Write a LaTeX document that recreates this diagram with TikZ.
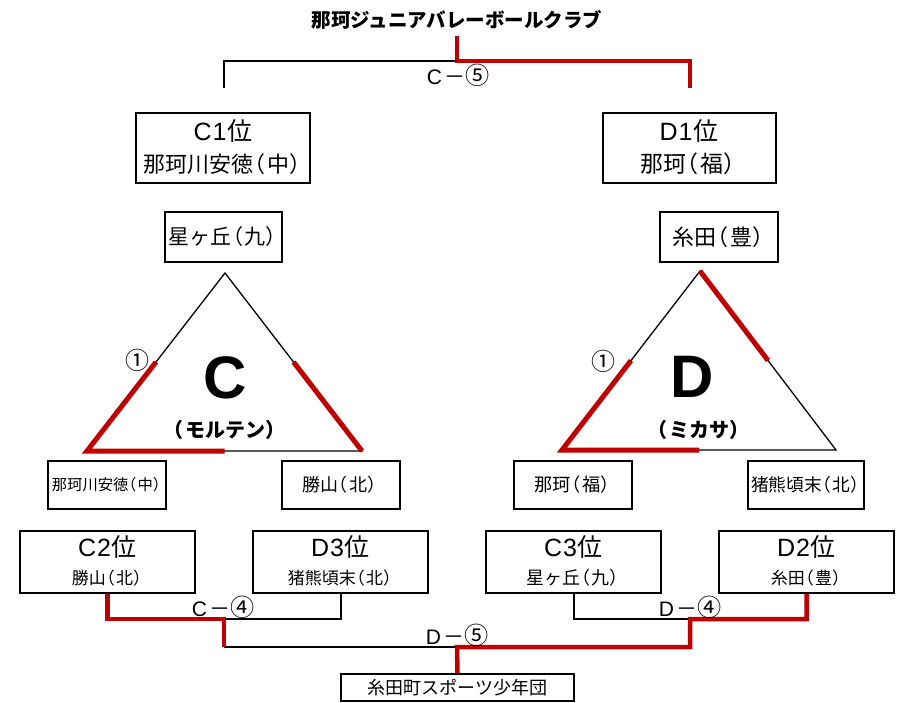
\documentclass[tikz,border=0pt]{standalone}
\usepackage{fontspec}
\setmainfont{Noto Sans CJK JP}
\newfontfamily\latf{Liberation Sans}
\newcommand\fs[1]{\fontsize{#1pt}{#1pt}\selectfont}
\newcommand\lp{\kern-0.07em\makebox[0.6em][r]{（}\kern0.07em}
\newcommand\rp{\makebox[0.6em][l]{）}}
\newcommand\lt[1]{{\latf #1}}
\newcommand\cn[1]{{\fontsize{1.15em}{1.15em}\selectfont #1}}
\definecolor{redl}{HTML}{C00000}
\begin{document}
\begin{tikzpicture}[x=1pt,y=-1pt,
  box/.style={draw, line width=2pt, inner sep=0pt},
  txt/.style={inner sep=0pt},
  blk/.style={line width=2pt},
  rd/.style={draw=redl, line width=4.5pt},
  tri/.style={line width=1.3pt},
  trired/.style={draw=redl, line width=5pt}]
\useasboundingbox (0,0) rectangle (901,702);
\fill[white] (0,0) rectangle (901,702);

% title and top bracket
\node[txt, font=\bfseries\fs{19.5}] (title) at (457,20) {那珂ジュニアバレーボールクラブ};
\coordinate (tl) at (224,88);
\coordinate (tm) at (457,61);
\coordinate (tt) at (457,36);
\coordinate (tr) at (690,88);
\draw[blk] (tl) |- (tm);
\draw[rd] (tt) -- (tm) -| (tr);
\node[txt, font=\fs{21}] (lc5) at (458,75) {\lt{C}\kern2pt －\cn{⑤}};

% top boxes
\node[box, minimum width=174pt, minimum height=70pt] (c1) at (223,148) {};
\node[txt, font=\fs{25}] (c1a) at (223,131) {\lt{C\kern1pt 1}\kern1pt 位};
\node[txt, font=\fs{22}] (c1b) at (223,164) {那珂川安徳\lp 中\rp};
\node[box, minimum width=173pt, minimum height=70pt] (d1) at (689,148) {};
\node[txt, font=\fs{25}] (d1a) at (689,131) {\lt{D\kern1pt 1}\kern1pt 位};
\node[txt, font=\fs{23}] (d1b) at (689,164) {那珂\lp 福\rp};

\node[box, minimum width=117pt, minimum height=50pt] (hc) at (223.5,237) {};
\node[txt, font=\fs{21}] (hct) at (223.5,237) {星ヶ丘\lp 九\rp};
\node[box, minimum width=118pt, minimum height=50pt] (it) at (719,237) {};
\node[txt, font=\fs{22}] (itt) at (719,237) {糸田\lp 豊\rp};

% triangle C
\coordinate (ca) at (225,273);
\coordinate (cl) at (87,451);
\coordinate (cr) at (362,451);
\coordinate (cml) at (156,362);
\coordinate (cmb) at (224.5,451);
\coordinate (cmr) at (293.5,362);
\draw[tri] (ca) -- (cl) -- (cr) -- cycle;
\draw[trired] (cml) -- (cl) -- (cmb);
\draw[trired] (cmr) -- (cr);
\node[txt, font=\latf\bfseries\fs{60}] (cbig) at (225,378) {C};
\node[txt, font=\bfseries\fs{20}] (cmol) at (225,430) {\lp モルテン\rp};
\node[txt, font=\fs{24}] (c1st) at (137.5,360) {①};

% triangle D
\coordinate (da) at (700,271);
\coordinate (dl) at (562,450);
\coordinate (dr) at (836,450);
\coordinate (dml) at (631,360.5);
\coordinate (dmb) at (699,450);
\coordinate (dmr) at (768,360.5);
\draw[tri] (da) -- (dl) -- (dr) -- cycle;
\draw[trired] (dml) -- (dl) -- (dmb);
\draw[trired] (da) -- (dmr);
\node[txt, font=\latf\bfseries\fs{60}] (dbig) at (692,377) {D};
\node[txt, font=\bfseries\fs{20}] (dmik) at (699,430) {\lp ミカサ\rp};
\node[txt, font=\fs{24}] (d1st) at (603,361) {①};

% small boxes
\node[box, minimum width=118pt, minimum height=48pt] (sc1) at (107,485) {};
\node[txt, font=\fs{15.3}] (sc1t) at (107,485) {那珂川安徳\lp 中\rp};
\node[box, minimum width=118pt, minimum height=48pt] (sc2) at (341,485) {};
\node[txt, font=\fs{18}] (sc2t) at (340,485) {勝山\lp 北\rp};
\node[box, minimum width=118pt, minimum height=48pt] (sd1) at (573,485) {};
\node[txt, font=\fs{18.3}] (sd1t) at (573,485) {那珂\lp 福\rp};
\node[box, minimum width=116pt, minimum height=48pt] (sd2) at (805.5,485) {};
\node[txt, font=\fs{17.7}] (sd2t) at (806,485) {猪熊頃末\lp 北\rp};

% bottom boxes
\node[box, minimum width=175pt, minimum height=62pt] (c2) at (107.5,562) {};
\node[txt, font=\fs{25}] (c2a) at (107.5,547) {\lt{C\kern1pt 2}\kern1pt 位};
\node[txt, font=\fs{17}] (c2b) at (107.5,578) {勝山\lp 北\rp};
\node[box, minimum width=175pt, minimum height=62pt] (d3) at (340.5,562) {};
\node[txt, font=\fs{25}] (d3a) at (340.5,547) {\lt{D\kern1pt 3}\kern1pt 位};
\node[txt, font=\fs{17}] (d3b) at (340.5,578) {猪熊頃末\lp 北\rp};
\node[box, minimum width=175pt, minimum height=62pt] (c3) at (573.5,562) {};
\node[txt, font=\fs{25}] (c3a) at (573.5,547) {\lt{C\kern1pt 3}\kern1pt 位};
\node[txt, font=\fs{18}] (c3b) at (573.5,578) {星ヶ丘\lp 九\rp};
\node[box, minimum width=175pt, minimum height=62pt] (d2) at (806.5,562) {};
\node[txt, font=\fs{25}] (d2a) at (806.5,547) {\lt{D\kern1pt 2}\kern1pt 位};
\node[txt, font=\fs{17}] (d2b) at (806.5,578) {糸田\lp 豊\rp};

\node[box, minimum width=233pt, minimum height=27pt] (bot) at (457.5,687.5) {};
\node[txt, font=\fs{18}] (bott) at (457.5,688) {糸田町スポーツ少年団};

% bottom brackets
\coordinate (m1) at (224,619);
\coordinate (m2) at (224,647);
\coordinate (m3) at (457,647);
\coordinate (m4) at (690,619);
\coordinate (m5) at (690,647);
\draw[blk] (d3.south) |- (m1);
\draw[blk] (c3.south) |- (m4);
\draw[blk] (m2) -- (m3);
\draw[rd] (c2.south) |- (m1) -- (m2);
\draw[rd] (d2.south) |- (m4) -- (m5) -- (m3) -- (bot.north);
\node[txt, font=\fs{21}] (lc4) at (223,607) {\lt{C}\kern2pt －\cn{④}};
\node[txt, font=\fs{21}] (ld4) at (690,607) {\lt{D}\kern2pt －\cn{④}};
\node[txt, font=\fs{21}] (ld5) at (457,635) {\lt{D}\kern2pt －\cn{⑤}};
\end{tikzpicture}
\end{document}
